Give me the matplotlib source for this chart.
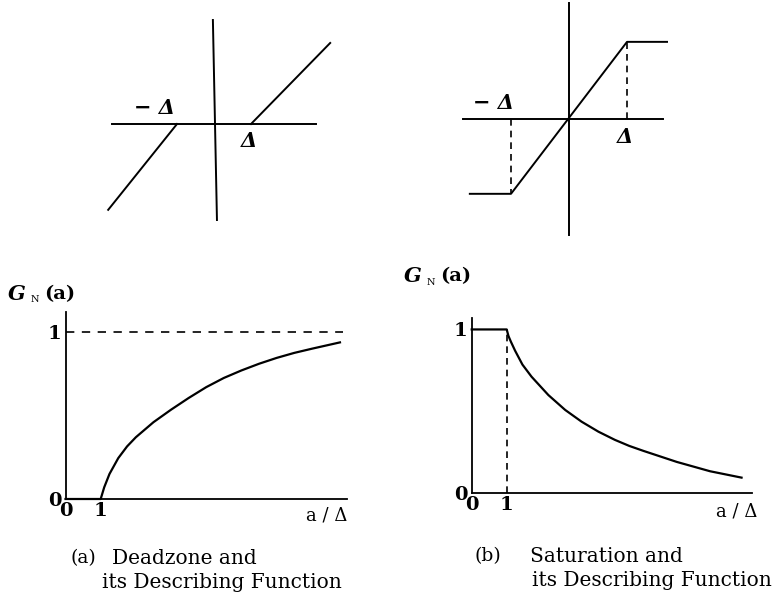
import matplotlib.pyplot as plt

W, H = 778, 604

# nonlinear characteristics (input in units of delta)
dz_in = [-2.86, -1.0, 1.0, 3.14]
dz_out = [-2.32, 0.0, 0.0, 2.19]

sat_in = [-1.71, -1.0, 1.0, 1.69]
sat_out = [-1.29, -1.29, 1.33, 1.33]

# describing functions G_N(a) against a/delta
dz_ratio = [0.0, 1.0, 1.1, 1.25, 1.5, 1.75, 2.0, 2.5, 3.0, 3.5, 4.0, 4.5, 5.0, 5.5, 6.0, 6.5, 7.0, 7.8]
dz_gain = [0.0, 0.0, 0.07, 0.15, 0.245, 0.315, 0.37, 0.46, 0.535, 0.605, 0.67, 0.725, 0.77, 0.81,
           0.845, 0.875, 0.90, 0.938]

sat_ratio = [0.0, 1.0, 1.05, 1.12, 1.24, 1.45, 1.71, 2.19, 2.67, 3.14, 3.62, 4.09, 4.5, 4.9, 5.86, 6.81, 7.71]
sat_gain = [1.0, 1.0, 0.96, 0.925, 0.87, 0.785, 0.711, 0.599, 0.508, 0.436, 0.375, 0.325, 0.288, 0.258,
            0.19, 0.133, 0.094]

tick_vals = [0, 1]
tick_text = ['0', '1']

plt.rcParams['font.family'] = ['DejaVu Serif']


def box(left, top, right, bottom):
    return [left / W, 1 - bottom / H, (right - left) / W, (bottom - top) / H]


def fpos(x, y):
    return x / W, 1 - y / H


fig = plt.figure(figsize=(W / 100, H / 100), dpi=100)
lw = 1.4
delta_kw = dict(fontsize=15, style='italic', fontweight='bold')

# --- top left: deadzone
ox, oy, u = 214, 124, 37.0
left, top, right, bottom = 100, 10, 340, 230
ax1 = fig.add_axes(box(left, top, right, bottom))
ax1.set_xlim((left - ox) / u, (right - ox) / u)
ax1.set_ylim((oy - bottom) / u, (oy - top) / u)
ax1.axis('off')
ax1.plot([(112 - ox) / u, (316 - ox) / u], [0, 0], color='black', lw=lw)
ax1.plot([-0.03, 0.08], [(oy - 20) / u, (oy - 220) / u], color='black', lw=lw)
ax1.plot(dz_in[:2], dz_out[:2], color='black', lw=lw)
ax1.plot(dz_in[2:], dz_out[2:], color='black', lw=lw)
ax1.text(dz_in[1] - 0.05, 0.15, '− Δ', ha='right', va='bottom', **delta_kw)
ax1.text(dz_in[2] - 0.05, -0.2, 'Δ', ha='center', va='top', **delta_kw)

# --- top right: saturation
ox, oy, u = 569, 119, 58.0
left, top, right, bottom = 455, 0, 680, 240
ax2 = fig.add_axes(box(left, top, right, bottom))
ax2.set_xlim((left - ox) / u, (right - ox) / u)
ax2.set_ylim((oy - bottom) / u, (oy - top) / u)
ax2.axis('off')
ax2.plot([(463 - ox) / u, (663 - ox) / u], [0, 0], color='black', lw=lw)
ax2.plot([0, 0], [(oy - 3) / u, (oy - 235) / u], color='black', lw=lw)
ax2.plot(sat_in, sat_out, color='black', lw=lw)
ax2.plot([sat_in[2], sat_in[2]], [0, sat_out[2]], color='black', lw=1.2, ls=(0, (4, 3)))
ax2.plot([sat_in[1], sat_in[1]], [0, sat_out[1]], color='black', lw=1.2, ls=(0, (4, 3)))
ax2.text(sat_in[1] + 0.05, 0.1, '− Δ', ha='right', va='bottom', **delta_kw)
ax2.text(sat_in[2] - 0.04, -0.13, 'Δ', ha='center', va='top', **delta_kw)


def df_axes(rect, ymax):
    ax = fig.add_axes(rect)
    ax.set_xlim(0, 8)
    ax.set_ylim(0, ymax)
    for s in ['top', 'right']:
        ax.spines[s].set_visible(False)
    for s in ['left', 'bottom']:
        ax.spines[s].set_linewidth(1.3)
    ax.set_xticks(tick_vals)
    ax.set_xticklabels(tick_text)
    ax.set_yticks(tick_vals)
    ax.set_yticklabels(tick_text)
    ax.tick_params(length=0, labelsize=14, pad=3)
    ax.tick_params(axis='x', pad=2)
    for t in ax.get_xticklabels() + ax.get_yticklabels():
        t.set_fontweight('bold')
    ax.patch.set_alpha(0)
    return ax


def gn_label(x, y):
    fig.text(*fpos(x, y), 'G', fontsize=15, style='italic', fontweight='bold', ha='center', va='center')
    fig.text(*fpos(x + 18, y + 6), 'N', fontsize=7, ha='center', va='center')
    fig.text(*fpos(x + 43, y), '(a)', fontsize=14, fontweight='bold', ha='center', va='center')


cap_kw = dict(fontsize=14.5, ha='left', va='center')

# --- bottom left: deadzone describing function
ax3 = df_axes(box(65.5, 312, 347, 499), 1.12)
ax3.plot([0, 7.9], [1, 1], color='black', lw=1.2, ls=(0, (5, 4.5)))
ax3.plot(dz_ratio, dz_gain, color='black', lw=1.6, clip_on=False)
gn_label(17, 294)
fig.text(*fpos(327, 515), 'a / Δ', fontsize=13, ha='center', va='center')
fig.text(*fpos(70, 558), '(a)', fontsize=13.5, ha='left', va='center')
fig.text(*fpos(112, 558), 'Deadzone and', **cap_kw)
fig.text(*fpos(102, 583), 'its Describing Function', **cap_kw)

# --- bottom right: saturation describing function
ax4 = df_axes(box(471.7, 318, 751.7, 493), 1.07)
ax4.plot([1, 1], [0, 1], color='black', lw=1.2, ls=(0, (4, 3)))
ax4.plot(sat_ratio, sat_gain, color='black', lw=1.6, clip_on=False)
gn_label(413, 276)
fig.text(*fpos(737, 512), 'a / Δ', fontsize=13, ha='center', va='center')
fig.text(*fpos(474, 556), '(b)', fontsize=13.5, ha='left', va='center')
fig.text(*fpos(530, 556), 'Saturation and', **cap_kw)
fig.text(*fpos(532, 580), 'its Describing Function', **cap_kw)

fig.savefig('out.png', dpi=100)
